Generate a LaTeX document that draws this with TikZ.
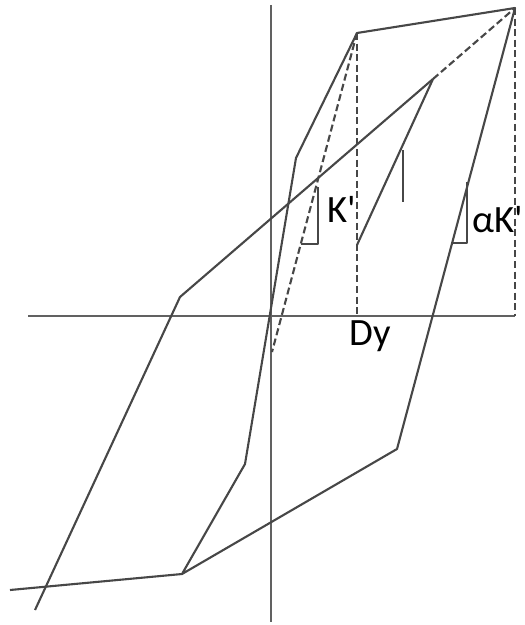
\documentclass[tikz,border=0pt]{standalone}
\usepackage{fontspec}
\setmainfont{Carlito}
\usetikzlibrary{positioning,calc}
\tikzstyle{curve}=[line width=1.2pt, draw=black!72, line join=round]
\tikzstyle{axis}=[line width=1.5pt, draw=black!62]
\tikzstyle{guide}=[curve, dash pattern=on 4pt off 2pt]
\tikzstyle{lbl}=[font=\fontsize{22}{26}\selectfont, inner sep=0pt, anchor=base west]

\begin{document}
\begin{tikzpicture}[x=0.02cm, y=-0.02cm]
  \useasboundingbox (0,0) rectangle (524,625);

  % ── axes ───────────────────────────────────────────────────────────────────
  \coordinate (xl) at (28,316);  \coordinate (xr) at (515,316);
  \coordinate (yt) at (271,5);   \coordinate (yb) at (271,622);
  \draw[axis] (xl) -- (xr);
  \draw[axis] (yt) -- (yb);

  % ── key points ─────────────────────────────────────────────────────────────
  \coordinate (peak)  at (515,8);
  \coordinate (yld)   at (357,33);
  \coordinate (mid)   at (433,79);
  \coordinate (dy)    at (357,316);
  \coordinate (kbot)  at (272,352);
  \coordinate (lnA)   at (10,590);
  \coordinate (lnB)   at (182,574);
  \coordinate (lnC)   at (397,449);
  \coordinate (lnD)   at (296,158);
  \coordinate (lnE)   at (245,464);
  \coordinate (lpA)   at (35,610);
  \coordinate (lpB)   at (180,297);
  \coordinate (inA)   at (357,245);

  % ── outer loop ─────────────────────────────────────────────────────────────
  \draw[curve] (lnA) -- (lnB) -- (lnC) -- (peak) -- (yld) -- (lnD) -- (lnE) -- (lnB);

  % ── second loop and inner branch ───────────────────────────────────────────
  \draw[curve] (lpA) -- (lpB) -- (mid);
  \draw[guide] (mid) -- (peak);
  \draw[curve] (inA) -- (mid);
  \coordinate (tkA) at (403,150); \coordinate (tkB) at (403,202);
  \draw[curve] (tkA) -- (tkB);

  % ── guides ─────────────────────────────────────────────────────────────────
  \draw[guide] (yld) -- (dy);
  \draw[guide] (peak) -- (xr);
  \draw[guide] (yld) -- (kbot);

  % ── stiffness triangles ────────────────────────────────────────────────────
  \coordinate (kA) at (301,244); \coordinate (kB) at (318,244); \coordinate (kC) at (318,187);
  \draw[curve] (kA) -- (kB) -- (kC);
  \coordinate (aA) at (452,243); \coordinate (aB) at (467,243); \coordinate (aC) at (467,182);
  \draw[curve] (aA) -- (aB) -- (aC);

  % ── labels ─────────────────────────────────────────────────────────────────
  \node[lbl] (kp)  at (327,222) {K\textquotesingle};
  \node[lbl] (akp) at (472,232) {αK\textquotesingle};
  \node[lbl] (dyl) at (349,345) {Dy};

\end{tikzpicture}
\end{document}
